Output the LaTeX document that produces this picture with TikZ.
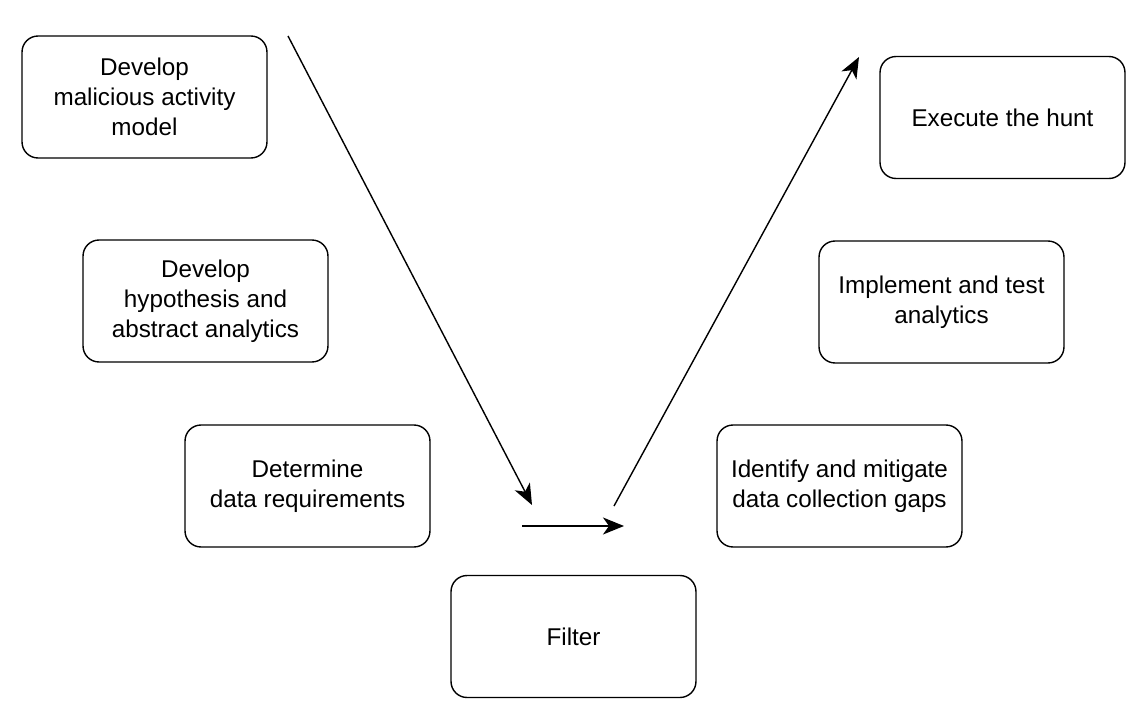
\documentclass[tikz,border=0pt]{standalone}
\usepackage{fontspec}
\setmainfont{Liberation Sans}
\usepackage{tikz}
\usetikzlibrary{arrows.meta}
\newcommand{\bxW}{4.9cm}
\newcommand{\bxH}{2.44cm}
\tikzset{
  stepbox/.style={draw, rounded corners=0.32cm, line width=0.8pt,
    minimum width=\bxW, minimum height=\bxH, align=center,
    font=\fontsize{13.8}{17.2}\selectfont},
  flow/.style={line width=0.8pt, -{Stealth[length=0.42cm, width=0.34cm, inset=0.12cm]}}
}

\begin{document}
\begin{tikzpicture}[x=0.02cm, y=-0.02cm]
	\useasboundingbox (0,0) rectangle (1147,720);

	% left branch
	\node[stepbox] (model) at (144.5, 97) {Develop\\malicious activity\\model};
	\node[stepbox] (hypo) at (205.5, 301) {Develop\\hypothesis and\\abstract analytics};
	\node[stepbox] (datareq) at (307.5, 486) {Determine\\data requirements};
	% bottom
	\node[stepbox] (filter) at (573.5, 636.5) {Filter};
	% right branch
	\node[stepbox] (gaps) at (839.5, 486) {Identify and mitigate\\data collection gaps};
	\node[stepbox] (impl) at (941.5, 302) {Implement and test\\analytics};
	\node[stepbox] (hunt) at (1002.5, 117.5) {Execute the hunt};

	% arrows
	\coordinate (downA) at (288, 36);
	\coordinate (downB) at (532, 505);
	\coordinate (midA) at (522, 526);
	\coordinate (midB) at (624, 526);
	\coordinate (upA) at (614, 506);
	\coordinate (upB) at (859, 57);
	\draw[flow] (downA) -- (downB);
	\draw[flow] (midA) -- (midB);
	\draw[flow] (upA) -- (upB);
\end{tikzpicture}
\end{document}
